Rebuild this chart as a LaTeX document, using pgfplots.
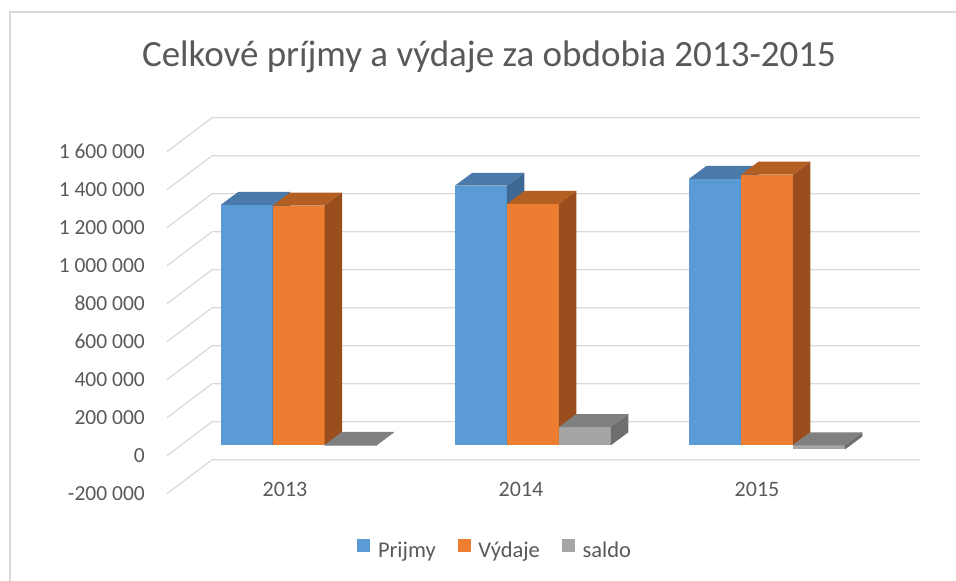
\documentclass[border=0pt]{standalone}
\usepackage{pgfplots}
\usepackage{pgfplotstable}
\pgfplotsset{compat=1.18}
\usepackage{fontspec}
\setmainfont{Carlito}

\definecolor{txt}{HTML}{595959}
\definecolor{gridc}{HTML}{D9D9D9}
\definecolor{pF}{HTML}{5B9BD5}
\definecolor{pT}{HTML}{4A7AAA}
\definecolor{pS}{HTML}{3D6893}
\definecolor{vF}{HTML}{ED7D31}
\definecolor{vT}{HTML}{B45F22}
\definecolor{vS}{HTML}{9A4E1D}
\definecolor{sF}{HTML}{A5A5A5}
\definecolor{sT}{HTML}{808080}
\definecolor{sS}{HTML}{6E6E6E}

\pgfplotstableread{
year Prijmy Vydaje saldo
2013 1265000 1262000 2500
2014 1366000 1270000 96000
2015 1402000 1424000 -22000
}\data

% one 3-D looking bar: #1 left x of front face, #2 value, #3 front, #4 top, #5 side colour
\newcommand\tdbar[5]{%
  \pgfkeys{/pgf/fpu=true,/pgf/fpu/output format=fixed}%
  \pgfmathparse{54700+max(#2,0)}\xdef\yt{\pgfmathresult}%
  \pgfmathparse{54700+min(#2,0)}\xdef\yb{\pgfmathresult}%
  \pgfmathparse{\yt+68400}\xdef\ytt{\pgfmathresult}%
  \pgfmathparse{\yb+68400}\xdef\ybb{\pgfmathresult}%
  \pgfkeys{/pgf/fpu=false}%
  \pgfmathsetmacro\xl{#1}%
  \pgfmathsetmacro\xr{#1+0.2203}%
  \pgfmathsetmacro\xrr{#1+0.2203+0.0742}%
  \pgfmathsetmacro\xll{#1+0.0742}%
  \edef\tmp{%
    \noexpand\addplot[fill=#3, draw=none, forget plot] coordinates {(\xl,\yb) (\xr,\yb) (\xr,\yt) (\xl,\yt)};
    \noexpand\addplot[fill=#4, draw=none, forget plot] coordinates {(\xl,\yt) (\xr,\yt) (\xrr,\ytt) (\xll,\ytt)};
    \noexpand\addplot[fill=#5, draw=none, forget plot] coordinates {(\xr,\yb) (\xrr,\ybb) (\xrr,\ytt) (\xr,\yt)};
  }\tmp
}

\begin{document}
\begin{tikzpicture}[x=1bp,y=1bp]
\useasboundingbox (0,0) rectangle (956,581);
\draw[gridc, line width=1.2bp] (10,0) -- (10,569) -- (956,569);
\node[anchor=base, text=txt, inner sep=0pt] at (489,514.3)
  {\fontsize{37bp}{42bp}\selectfont Celkové príjmy a výdaje za obdobia 2013-2015};
\begin{axis}[
  at={(167bp,87.3bp)}, anchor=south west,
  scale only axis, width=753bp, height=376bp,
  xmin=-0.5, xmax=2.6907, ymin=-200000, ymax=1778900,
  clip=false,
  axis line style={draw=none},
  major tick length=0pt,
  tick style={draw=none},
  ytick={-200000,0,200000,400000,600000,800000,1000000,1200000,1400000,1600000},
  scaled y ticks=false,
  /pgf/number format/.cd, fixed, precision=0, 1000 sep={\ }, assume math mode=true,
  /pgfplots/.cd,
  yticklabel style={anchor=east, inner sep=0pt, xshift=-22bp, text=txt,
    font=\fontsize{21.5bp}{26bp}\selectfont},
  xtick={0,1,2},
  xticklabels={2013,2014,2015},
  xticklabel style={anchor=base, inner sep=0pt, yshift=-3.3bp, text=txt,
    font=\fontsize{22bp}{26bp}\selectfont},
  legend columns=3,
  legend style={draw=none, fill=none, at={(0.4345,-0.147)}, anchor=center,
    font=\fontsize{22.5bp}{27bp}\selectfont, text=txt,
    /tikz/every even column/.append style={column sep=22bp},
    nodes={inner sep=0pt}},
  legend image code/.code={\fill[#1, draw=none] (0bp,-1bp) rectangle (13bp,12bp); \path (20.7bp,0bp);},
]
\addlegendimage{fill=pF, draw=none}\addlegendentry{Prijmy}
\addlegendimage{fill=vF, draw=none}\addlegendentry{Výdaje}
\addlegendimage{fill=sF, draw=none}\addlegendentry{saldo}

% gridlines: front oblique + back wall
\addplot[gridc, line width=1.2bp, forget plot] coordinates {(-0.5,-200000) (-0.3093,-21100) (2.6907,-21100)};
\addplot[gridc, line width=1.2bp, forget plot] coordinates {(-0.5,0) (-0.3093,178900) (2.6907,178900)};
\addplot[gridc, line width=1.2bp, forget plot] coordinates {(-0.5,200000) (-0.3093,378900) (2.6907,378900)};
\addplot[gridc, line width=1.2bp, forget plot] coordinates {(-0.5,400000) (-0.3093,578900) (2.6907,578900)};
\addplot[gridc, line width=1.2bp, forget plot] coordinates {(-0.5,600000) (-0.3093,778900) (2.6907,778900)};
\addplot[gridc, line width=1.2bp, forget plot] coordinates {(-0.5,800000) (-0.3093,978900) (2.6907,978900)};
\addplot[gridc, line width=1.2bp, forget plot] coordinates {(-0.5,1000000) (-0.3093,1178900) (2.6907,1178900)};
\addplot[gridc, line width=1.2bp, forget plot] coordinates {(-0.5,1200000) (-0.3093,1378900) (2.6907,1378900)};
\addplot[gridc, line width=1.2bp, forget plot] coordinates {(-0.5,1400000) (-0.3093,1578900) (2.6907,1578900)};
\addplot[gridc, line width=1.2bp, forget plot] coordinates {(-0.5,1600000) (-0.3093,1778900) (2.6907,1778900)};

\pgfplotsinvokeforeach{0,1,2}{
  \pgfmathsetmacro\gl{-0.2725+0.992*#1}
  \pgfmathsetmacro\ga{\gl+0.2203}
  \pgfmathsetmacro\gb{\gl+0.4406}
  \pgfplotstablegetelem{#1}{Prijmy}\of\data \let\vp\pgfplotsretval
  \pgfplotstablegetelem{#1}{Vydaje}\of\data \let\vv\pgfplotsretval
  \pgfplotstablegetelem{#1}{saldo}\of\data \let\vs\pgfplotsretval
  \tdbar{\gl}{\vp}{pF}{pT}{pS}
  \tdbar{\ga}{\vv}{vF}{vT}{vS}
  \tdbar{\gb}{\vs}{sF}{sT}{sS}
}
\end{axis}
\end{tikzpicture}
\end{document}
